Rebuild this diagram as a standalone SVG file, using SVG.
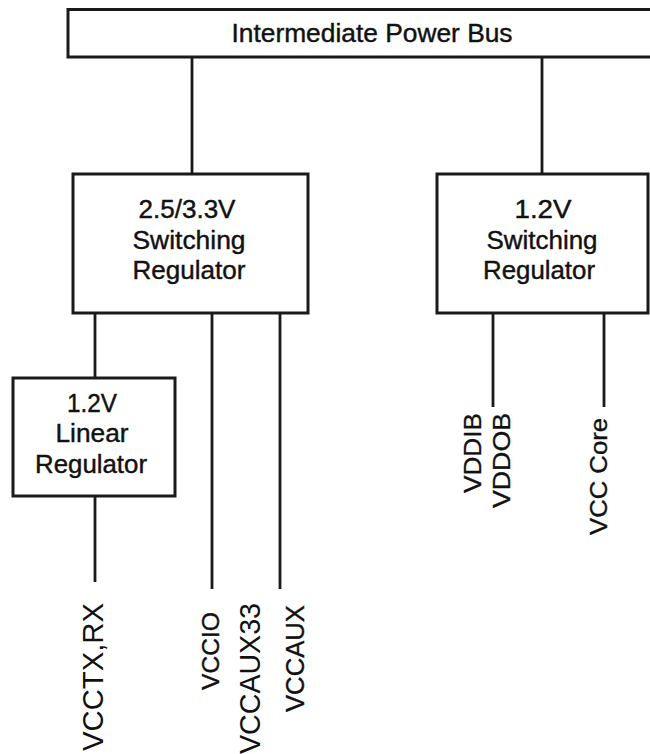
<svg xmlns="http://www.w3.org/2000/svg" width="650" height="754" viewBox="0 0 650 754">
<style>
.box{fill:#fff;stroke:#1a1a1a;stroke-width:3}
.ln{stroke:#1a1a1a;stroke-width:2.8;fill:none}
.t{font-family:"Liberation Sans",Arial,sans-serif;font-size:25px;fill:#111;stroke:#111;stroke-width:0.4;text-anchor:middle}
.v{font-family:"Liberation Sans",Arial,sans-serif;fill:#111}
.b{stroke:#111;stroke-width:0.35}
</style>
<rect x="0" y="0" width="650" height="754" fill="#fff"/>
<g id="connectors">
<line class="ln" x1="192" y1="57" x2="192" y2="174"/>
<line class="ln" x1="542" y1="57" x2="542" y2="174"/>
<line class="ln" x1="95" y1="313" x2="95" y2="378"/>
<line class="ln" x1="95" y1="496" x2="95" y2="582"/>
<line class="ln" x1="212" y1="313" x2="212" y2="589"/>
<line class="ln" x1="280" y1="313" x2="280" y2="589"/>
<line class="ln" x1="493" y1="313" x2="493" y2="407"/>
<line class="ln" x1="604" y1="313" x2="604" y2="407"/>
</g>
<g id="bus">
<rect class="box" x="68" y="9.5" width="600" height="47.5"/>
<text class="t" x="372" y="42" font-size="23" textLength="281" lengthAdjust="spacingAndGlyphs">Intermediate Power Bus</text>
</g>
<g id="sw1">
<rect class="box" x="73" y="174" width="235" height="139"/>
<text class="t" x="187" y="218" textLength="97" lengthAdjust="spacingAndGlyphs">2.5/3.3V</text>
<text class="t" x="189" y="249" textLength="113" lengthAdjust="spacingAndGlyphs">Switching</text>
<text class="t" x="189" y="279" textLength="113" lengthAdjust="spacingAndGlyphs">Regulator</text>
</g>
<g id="sw2">
<rect class="box" x="437" y="174" width="211" height="139"/>
<text class="t" x="543" y="218" textLength="57" lengthAdjust="spacingAndGlyphs">1.2V</text>
<text class="t" x="542" y="249" textLength="111" lengthAdjust="spacingAndGlyphs">Switching</text>
<text class="t" x="539" y="279" textLength="112" lengthAdjust="spacingAndGlyphs">Regulator</text>
</g>
<g id="lin">
<rect class="box" x="13" y="378" width="162" height="118"/>
<text class="t" x="92" y="412" textLength="50" lengthAdjust="spacingAndGlyphs">1.2V</text>
<text class="t" x="92" y="442" textLength="73" lengthAdjust="spacingAndGlyphs">Linear</text>
<text class="t" x="91" y="473" textLength="112" lengthAdjust="spacingAndGlyphs">Regulator</text>
</g>
<g id="labels">
<text class="v" font-size="29" transform="translate(103,751) rotate(-90)" textLength="148" lengthAdjust="spacingAndGlyphs">VCCTX,RX</text>
<text class="v b" font-size="24" transform="translate(219,690) rotate(-90)" textLength="78" lengthAdjust="spacingAndGlyphs">VCCIO</text>
<text class="v" font-size="29" transform="translate(260,754) rotate(-90)" textLength="151" lengthAdjust="spacingAndGlyphs">VCCAUX33</text>
<text class="v b" font-size="25" transform="translate(304,712) rotate(-90)" textLength="107" lengthAdjust="spacingAndGlyphs">VCCAUX</text>
<text class="v b" font-size="24" transform="translate(481,493) rotate(-90)" textLength="80" lengthAdjust="spacingAndGlyphs">VDDIB</text>
<text class="v b" font-size="24" transform="translate(510,508) rotate(-90)" textLength="95" lengthAdjust="spacingAndGlyphs">VDDOB</text>
<text class="v b" font-size="24" transform="translate(607,535) rotate(-90)" textLength="117" lengthAdjust="spacingAndGlyphs">VCC Core</text>
</g>
</svg>
